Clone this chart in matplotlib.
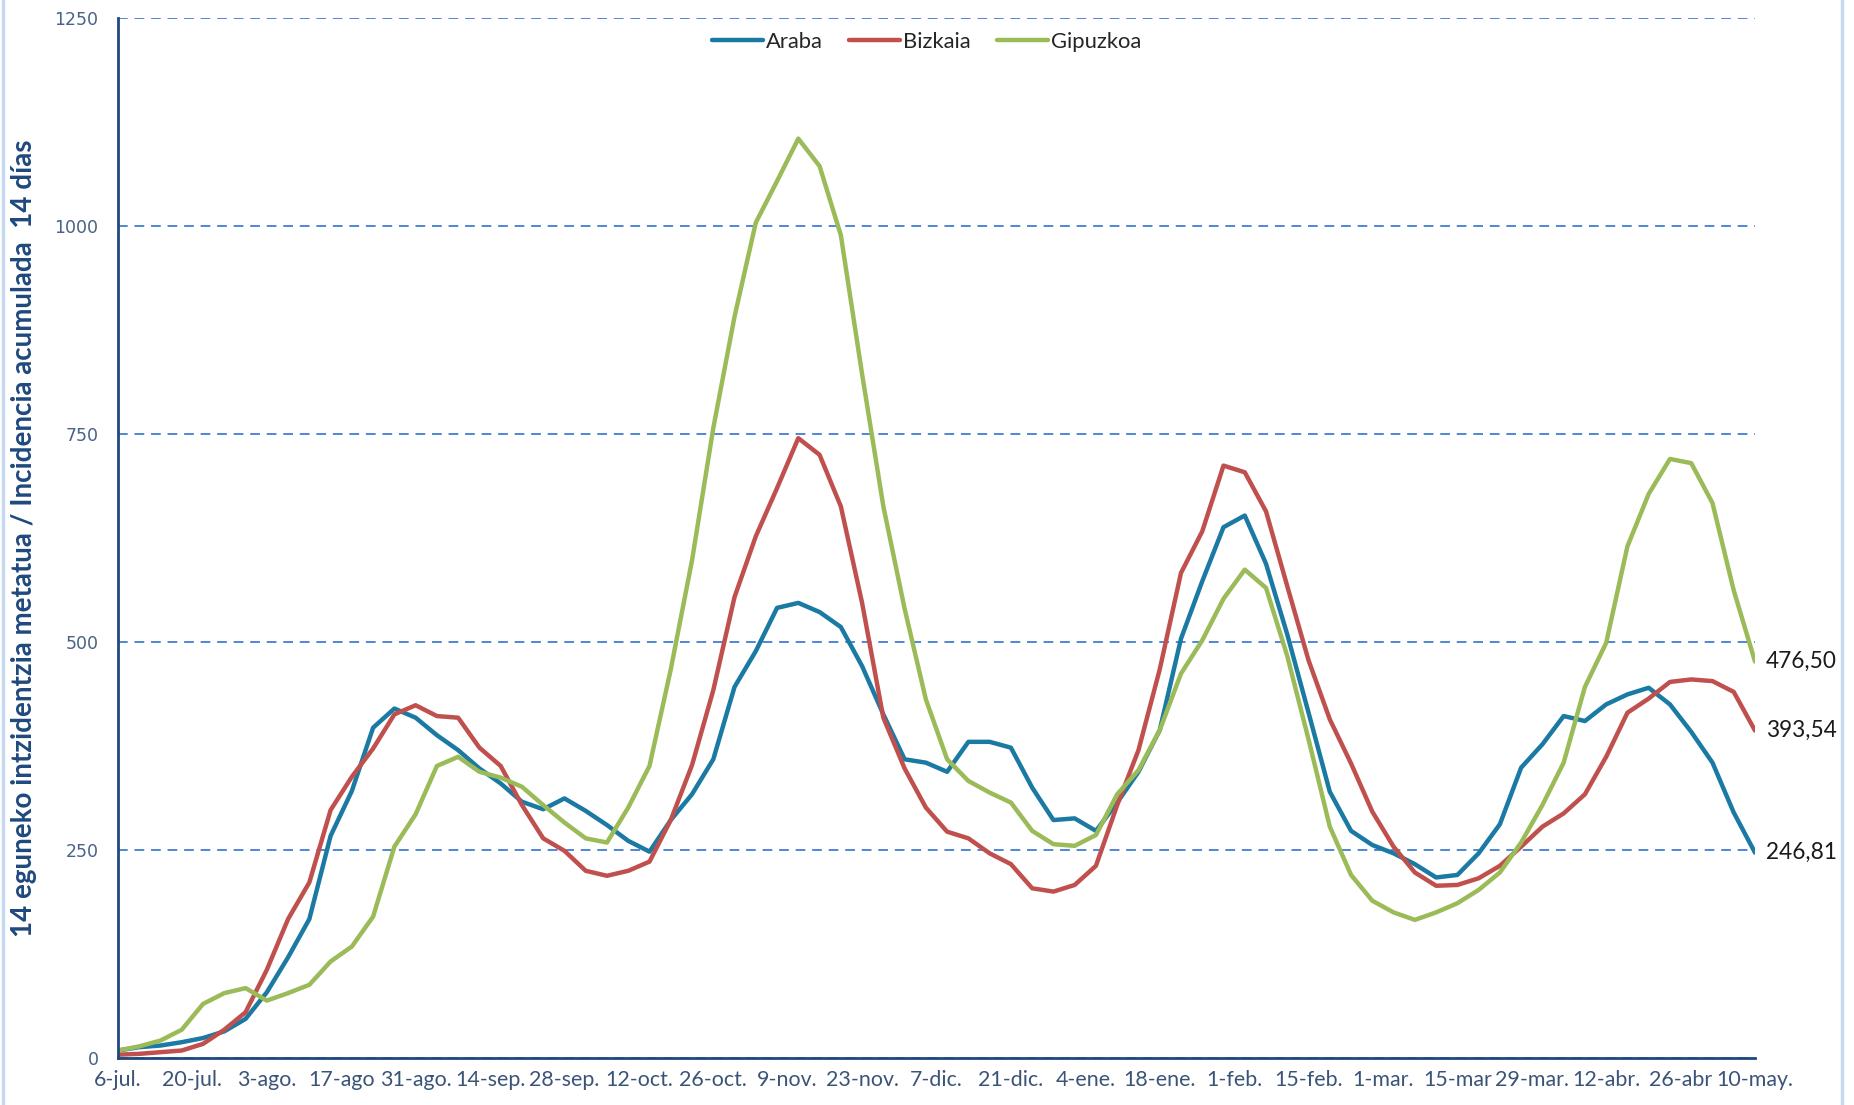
import pandas as pd
import numpy as np
import matplotlib
matplotlib.use('Agg')
import matplotlib.pyplot as plt
from matplotlib import font_manager
from matplotlib.lines import Line2D

# Datos: incidencia acumulada 14 días, un punto cada 4 días (6-jul-2020 .. 10-may-2021)
fechas = pd.date_range('2020-07-06', periods=78, freq='4D')

araba = [9, 13, 15, 19, 24, 32, 47, 79, 121, 167, 267, 321, 397, 420,
         409, 388, 370, 348, 330, 308, 299, 312, 297, 280, 261, 248, 286, 317,
         359, 446, 489, 541, 547, 536, 518, 471, 413, 359, 355, 344, 380, 380,
         373, 325, 286, 288, 273, 307, 344, 394, 504, 573, 638, 652, 594, 509,
         415, 320, 273, 256, 246, 233, 217, 220, 246, 281, 349, 377, 411, 405,
         425, 437, 445, 425, 392, 355, 295, 246.81]

bizkaia = [4, 5, 7, 9, 17, 34, 55, 106, 167, 211, 298, 338, 372, 413,
           424, 411, 409, 373, 351, 304, 264, 249, 225, 219, 225, 236, 286, 352,
           442, 554, 627, 685, 745, 725, 663, 547, 409, 348, 301, 272, 264, 246,
           233, 204, 200, 208, 231, 304, 370, 467, 583, 633, 712, 704, 657, 567,
           478, 407, 354, 296, 254, 223, 207, 208, 216, 231, 254, 278, 294, 317,
           362, 415, 432, 452, 455, 453, 440, 393.54]

gipuzkoa = [9, 14, 21, 34, 65, 78, 84, 69, 78, 88, 116, 134, 170, 254,
            293, 351, 362, 344, 337, 326, 304, 283, 264, 259, 301, 351, 467, 598,
            757, 891, 1004, 1054, 1105, 1072, 989, 822, 663, 540, 431, 359, 333, 319,
            307, 273, 257, 255, 268, 317, 346, 394, 462, 502, 552, 587, 565, 483,
            383, 278, 220, 189, 175, 166, 175, 186, 202, 223, 259, 304, 355, 446,
            499, 615, 678, 720, 715, 667, 562, 476.50]

etiquetas_x = ['6-jul.', '20-jul.', '3-ago.', '17-ago', '31-ago.', '14-sep.', '28-sep.',
               '12-oct.', '26-oct.', '9-nov.', '23-nov.', '7-dic.', '21-dic.', '4-ene.',
               '18-ene.', '1-feb.', '15-feb.', '1-mar.', '15-mar', '29-mar.', '12-abr.',
               '26-abr', '10-may.']
ticks_x = pd.date_range('2020-07-06', periods=len(etiquetas_x), freq='14D')

series = [('Araba', araba, '#1B7AA3'),
          ('Bizkaia', bizkaia, '#C0504D'),
          ('Gipuzkoa', gipuzkoa, '#9BBB59')]

# Fuente estrecha parecida a Calibri si existe
instaladas = {f.name for f in font_manager.fontManager.ttflist}
if 'Liberation Sans Narrow' in instaladas:
    estrecha, esc = 'Liberation Sans Narrow', 1.0
else:
    estrecha, esc = 'Lato', 0.88

fig = plt.figure(figsize=(18.54, 11.05), dpi=100)
ax = fig.add_axes([118 / 1854, 1 - 1058 / 1105, (1755 - 118) / 1854, 1040 / 1105])

for nombre, valores, color in series:
    ax.plot(fechas, valores, color=color, lw=3.2, label=nombre, solid_capstyle='round')
    ax.text(fechas[-1] + pd.Timedelta(days=2), valores[-1],
            f'{valores[-1]:.2f}'.replace('.', ','), va='center', ha='left',
            fontsize=18.5 * esc, family=estrecha, color='#1a1a1a')

ax.set_ylim(0, 1250)
ax.set_yticks(range(0, 1251, 250))
ax.set_xlim(fechas[0], fechas[-1])
ax.set_xticks(ticks_x)
ax.set_xticklabels(etiquetas_x, family=estrecha, fontsize=17.5 * esc, color='#3A5478')
for lbl in ax.get_yticklabels():
    lbl.set_fontsize(12.5)
    lbl.set_color('#4A6285')
ax.tick_params(axis='y', length=0, pad=14)
ax.tick_params(axis='x', length=0, pad=9)

ax.grid(axis='y', color='#4F86D6', lw=1.4, linestyle=(0, (5, 3.5)))
ax.set_axisbelow(True)
for s in ['top', 'right']:
    ax.spines[s].set_visible(False)
for s in ['left', 'bottom']:
    ax.spines[s].set_color('#1F497D')
    ax.spines[s].set_linewidth(2)

# título del eje Y, centrado a mano
fig.text(24 / 1854, 1 - 538 / 1105,
         '14 eguneko intzidentzia metatua / Incidencia acumulada  14 días',
         rotation=90, rotation_mode='anchor', ha='center', va='center',
         family=estrecha, fontsize=20, fontweight='bold', color='#1F497D')

ax.legend(loc='center', bbox_to_anchor=(0.494, 0.977), ncol=3, frameon=False,
          prop={'family': estrecha, 'size': 18 * esc}, handlelength=2.3,
          handletextpad=0.15, columnspacing=1.2, labelcolor='#262626')

# bordes azul claro del gráfico
fig.add_artist(Line2D([0.0015, 0.0015], [0, 1], color='#C6D9F1', lw=2.5))
fig.add_artist(Line2D([1842 / 1854, 1842 / 1854], [0, 1], color='#C6D9F1', lw=2.5))

fig.savefig('out.png', dpi=100, facecolor='white')
